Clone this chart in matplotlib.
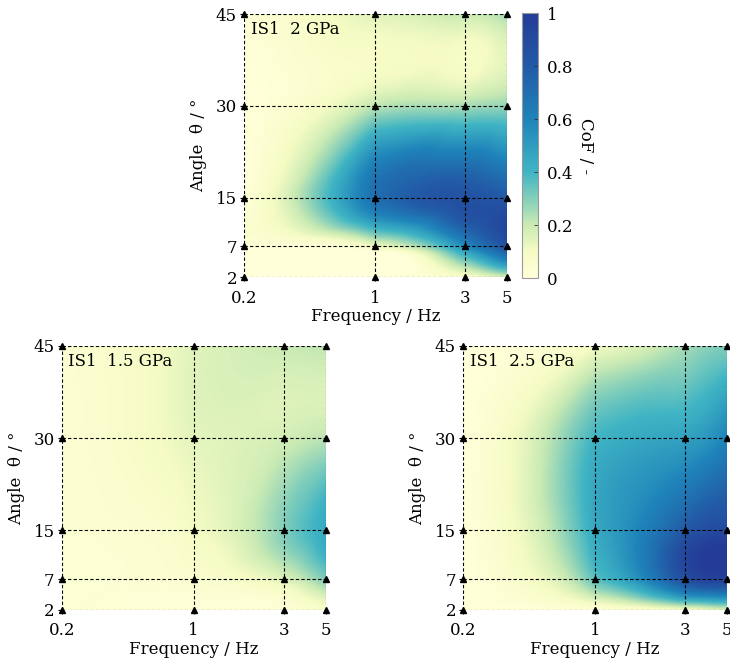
import numpy as np
import matplotlib
matplotlib.use("Agg")
import matplotlib.pyplot as plt
import matplotlib.tri as mtri
from matplotlib.colors import LinearSegmentedColormap

plt.rcParams["font.family"] = ["DejaVu Serif"]
plt.rcParams["font.size"] = 12
plt.rcParams["mathtext.fontset"] = "dejavuserif"

FREQS = [0.2, 1, 3, 5]
ANGLES = [2, 7, 15, 30, 45]
FREQ_LABELS = ["0.2", "1", "3", "5"]
ANGLE_LABELS = ["2", "7", "15", "30", "45"]

# CoF read at each measured node, rows = angle (2..45), cols = frequency (0.2..5)
COF_2GPA = [
    [0.00, 0.00, 0.05, 0.15],
    [0.00, 0.10, 0.55, 0.85],
    [0.00, 0.70, 0.85, 0.80],
    [0.00, 0.22, 0.25, 0.28],
    [0.02, 0.15, 0.20, 0.25],
]
COF_15GPA = [
    [0.03, 0.02, 0.02, 0.05],
    [0.03, 0.05, 0.15, 0.30],
    [0.03, 0.10, 0.30, 0.45],
    [0.03, 0.14, 0.18, 0.22],
    [0.04, 0.15, 0.20, 0.22],
]
COF_25GPA = [
    [0.00, 0.00, 0.05, 0.12],
    [0.00, 0.35, 0.85, 0.95],
    [0.00, 0.45, 0.80, 0.90],
    [0.00, 0.40, 0.48, 0.60],
    [0.00, 0.10, 0.25, 0.30],
]

# colour scale: YlGnBu stretched so that the low end is pale and 1 stays mid-navy
base = plt.get_cmap("YlGnBu")
stops = [0.0, 0.1, 0.2, 0.3, 0.4, 0.6, 0.8, 1.0]
pos = [0.0, 0.07, 0.24, 0.37, 0.5, 0.66, 0.76, 0.85]
cmap = LinearSegmentedColormap.from_list("cof", list(zip(stops, base(pos))))


def cof_field(values, fx, fy):
    # smooth surface through the nodes, built on the node index grid
    nf, na = len(FREQS), len(ANGLES)
    gu, gv = np.meshgrid(np.arange(nf), np.arange(na))
    tris = []
    for j in range(na - 1):
        for i in range(nf - 1):
            k = j * nf + i
            tris += [[k, k + 1, k + nf + 1], [k, k + nf + 1, k + nf]]
    tri = mtri.Triangulation(gu.ravel(), gv.ravel(), tris)
    interp = mtri.CubicTriInterpolator(tri, np.ravel(values), kind="min_E")
    u = np.interp(fx, FREQS, np.arange(nf))
    v = np.interp(fy, ANGLES, np.arange(na))
    z = interp(u, v)
    return np.clip(z.filled(0), 0, 1)


def draw_panel(ax, values, title):
    fx = np.logspace(np.log10(FREQS[0]), np.log10(FREQS[-1]), 300)
    fy = np.linspace(ANGLES[0], ANGLES[-1], 300)
    FX, FY = np.meshgrid(fx, fy)
    z = cof_field(values, FX, FY)
    mesh = ax.pcolormesh(FX, FY, z, cmap=cmap, vmin=0, vmax=1,
                         shading="gouraud", rasterized=True)

    ax.set_xscale("log")
    ax.set_xlim(FREQS[0], FREQS[-1])
    ax.set_ylim(ANGLES[0], ANGLES[-1])
    ax.set_xticks(FREQS)
    ax.set_xticklabels(FREQ_LABELS)
    ax.set_xticks([], minor=True)
    ax.set_yticks(ANGLES)
    ax.set_yticklabels(ANGLE_LABELS)
    ax.tick_params(direction="out", length=3, width=0.8, pad=2)
    ax.tick_params(axis="x", pad=6)

    for s in ax.spines.values():
        s.set_visible(False)
    for f in FREQS:
        ax.axvline(f, color="k", ls="--", lw=0.8, dashes=(3, 2))
    for a in ANGLES:
        ax.axhline(a, color="k", ls="--", lw=0.8, dashes=(3, 2))

    gf, ga = np.meshgrid(FREQS, ANGLES)
    ax.plot(gf.ravel(), ga.ravel(), "^", color="k", ms=5, clip_on=False, zorder=5)

    ax.text(0.025, 0.975, title, transform=ax.transAxes, ha="left", va="top")
    ax.set_xlabel("Frequency / Hz", labelpad=1)
    ax.set_ylabel("Angle  θ / °", labelpad=6)
    return mesh


fig = plt.figure(figsize=(7.3, 6.61), dpi=100)

ax_top = fig.add_axes([0.3342, 0.5809, 0.3603, 0.3979])
ax_bl = fig.add_axes([0.0845, 0.0772, 0.3616, 0.3994])
ax_br = fig.add_axes([0.6342, 0.0772, 0.3616, 0.3994])
cax = fig.add_axes([0.7147, 0.5794, 0.0228, 0.4005])

mesh = draw_panel(ax_top, COF_2GPA, "IS1  2 GPa")
draw_panel(ax_bl, COF_15GPA, "IS1  1.5 GPa")
draw_panel(ax_br, COF_25GPA, "IS1  2.5 GPa")

cb = fig.colorbar(mesh, cax=cax)
cb.set_ticks([0, 0.2, 0.4, 0.6, 0.8, 1])
cb.set_ticklabels(["0", "0.2", "0.4", "0.6", "0.8", "1"])
cb.ax.tick_params(direction="in", length=3, width=0.6, color="#333333", pad=6)
cb.outline.set_edgecolor("#999999")
cb.outline.set_linewidth(0.8)
cb.set_label("CoF / -", rotation=270, labelpad=15)

fig.savefig("out.png", dpi=100)
